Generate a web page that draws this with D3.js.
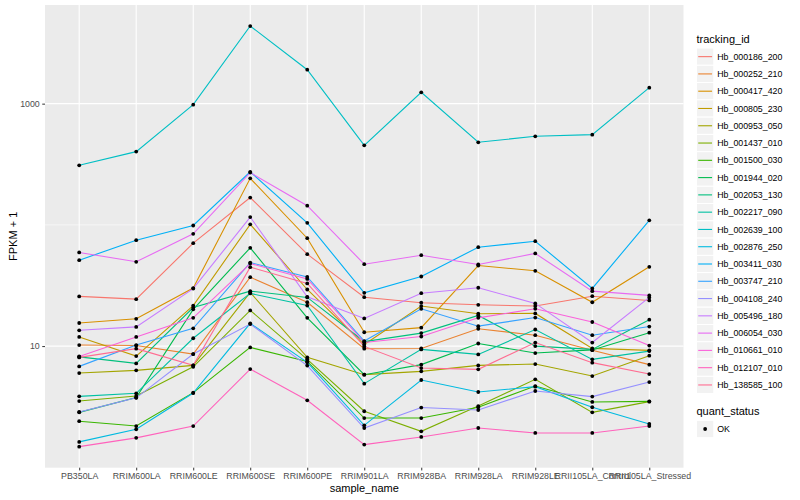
<!DOCTYPE html>
<html>
<head>
<meta charset="utf-8">
<script src="https://cdn.jsdelivr.net/npm/d3@7"></script>
<style>
  body { margin: 0; background: #fff; }
  text { font-family: "Liberation Sans", Arial, Helvetica, sans-serif; }
</style>
</head>
<body>
<div id="chart"></div>
<script>
// Sample names along the x axis
var samples = ["PB350LA", "RRIM600LA", "RRIM600LE", "RRIM600SE", "RRIM600PE", "RRIM901LA",
    "RRIM928BA", "RRIM928LA", "RRIM928LE", "RRII105LA_Control", "RRII105LA_Stressed"];

var trackingIds = ["Hb_000186_200", "Hb_000252_210", "Hb_000417_420", "Hb_000805_230", "Hb_000953_050",
    "Hb_001437_010", "Hb_001500_030", "Hb_001944_020", "Hb_002053_130", "Hb_002217_090",
    "Hb_002639_100", "Hb_002876_250", "Hb_003411_030", "Hb_003747_210", "Hb_004108_240",
    "Hb_005496_180", "Hb_006054_030", "Hb_010661_010", "Hb_012107_010", "Hb_138585_100"];

// ggplot hue palette for 20 levels
var colors = ["#F8766D", "#EA8331", "#D89000", "#C09B00", "#A3A500", "#7CAE00", "#39B600", "#00BB4E",
    "#00BF7D", "#00C1A3", "#00BFC4", "#00BAE0", "#00B0F6", "#35A2FF", "#9590FF", "#C77CFF",
    "#E76BF3", "#FA62DB", "#FF62BC", "#FF6C91"];

// FPKM + 1 per sample, one array per gene
var hb000186_200 = [25.7, 24.4, 70.6, 168, 57.3, 25.3, 22.8, 21.9, 21.4, 25.8, 23.8];
var hb000252_210 = [10.2, 10.1, 8.59, 37.0, 23.0, 9.52, 9.55, 13.9, 12.3, 9.25, 7.03];
var hb000417_420 = [15.5, 16.8, 30.1, 242, 77.6, 13.0, 14.2, 46.2, 41.8, 23.0, 45.1];
var hb000805_230 = [11.9, 8.27, 21.6, 101, 29.3, 10.3, 21.4, 18.5, 18.6, 9.57, 9.22];
var hb000953_050 = [5.99, 6.31, 6.93, 27.7, 8.07, 5.81, 6.19, 6.93, 7.11, 5.66, 8.33];
var hb001437_010 = [3.52, 3.88, 6.75, 19.7, 7.77, 2.90, 1.98, 3.20, 5.32, 2.84, 3.48];
var hb001500_030 = [2.40, 2.19, 4.13, 9.75, 7.48, 2.55, 2.55, 3.13, 4.68, 3.46, 3.50];
var hb001944_020 = [2.84, 3.76, 20.1, 64.7, 17.1, 5.81, 7.03, 10.5, 8.76, 9.30, 12.9];
var hb002053_130 = [8.15, 7.20, 20.8, 28.4, 25.2, 10.9, 12.8, 17.9, 10.0, 9.39, 16.5];
var hb002217_090 = [3.85, 4.08, 11.6, 27.2, 21.6, 4.90, 9.39, 8.54, 13.7, 7.77, 9.09];
var hb002639_100 = [310, 402, 981, 4368, 1906, 453, 1239, 480, 538, 555, 1355];
var hb002876_250 = [1.62, 2.06, 4.10, 15.4, 7.34, 2.22, 5.25, 4.18, 4.63, 3.13, 2.28];
var hb003411_030 = [51.1, 74.7, 98.8, 274, 104, 27.5, 37.5, 65.4, 73.3, 29.9, 109];
var hb003747_210 = [6.80, 10.2, 14.0, 48.9, 37.2, 11.0, 20.3, 14.6, 17.2, 12.3, 14.5];
var hb004108_240 = [2.86, 3.74, 8.59, 15.2, 6.90, 2.11, 3.11, 2.97, 4.26, 3.83, 5.05];
var hb005496_180 = [13.5, 14.4, 29.8, 116, 25.5, 16.9, 27.3, 30.3, 22.5, 10.7, 25.2];
var hb006054_030 = [59.2, 49.6, 84.4, 270, 144, 47.4, 56.2, 47.1, 58.1, 28.4, 26.2];
var hb010661_010 = [8.22, 11.9, 17.1, 48.0, 35.8, 10.7, 12.0, 17.1, 20.3, 15.8, 10.1];
var hb012107_010 = [1.48, 1.75, 2.19, 6.46, 3.57, 1.54, 1.78, 2.11, 1.92, 1.92, 2.19];
var hb138585_100 = [8.07, 9.52, 6.93, 44.8, 32.9, 9.94, 6.59, 6.43, 10.7, 7.30, 5.88];

var yTicks = [10, 1000];
var yMinor = [100];

var allValues = [hb000186_200, hb000252_210, hb000417_420, hb000805_230, hb000953_050,
    hb001437_010, hb001500_030, hb001944_020, hb002053_130, hb002217_090,
    hb002639_100, hb002876_250, hb003411_030, hb003747_210, hb004108_240,
    hb005496_180, hb006054_030, hb010661_010, hb012107_010, hb138585_100];

var series = trackingIds.map(function(id, i) {
    return {
        id: id,
        color: colors[i],
        points: allValues[i].map(function(v, j) { return {sample: samples[j], value: v}; })
    };
});

var svgWidth = 800;
var svgHeight = 500;
var panel = {left: 45, top: 5, right: 683.5, bottom: 467.7};
var pointRadius = 1.9;

var svg = d3.select("#chart")
    .append("svg")
    .attr("width", svgWidth)
    .attr("height", svgHeight);

svg.append("rect").attr("width", svgWidth).attr("height", svgHeight).attr("fill", "#fff");

// Scales: discrete x, log10 y with 5% expansion
var xScale = d3.scalePoint()
    .domain(samples)
    .range([panel.left, panel.right])
    .padding(0.6);

var logMin = d3.min(allValues, function(a) { return d3.min(a, function(v) { return Math.log10(v); }); });
var logMax = d3.max(allValues, function(a) { return d3.max(a, function(v) { return Math.log10(v); }); });
var pad = (logMax - logMin) * 0.05;

var yScale = d3.scaleLog()
    .domain([Math.pow(10, logMin - pad), Math.pow(10, logMax + pad)])
    .range([panel.bottom, panel.top]);

// Panel background and grid
svg.append("rect")
    .attr("x", panel.left)
    .attr("y", panel.top)
    .attr("width", panel.right - panel.left)
    .attr("height", panel.bottom - panel.top)
    .attr("fill", "#EBEBEB");

var grid = svg.append("g");
grid.selectAll(".minor")
    .data(yMinor)
    .enter()
    .append("line")
    .attr("x1", panel.left).attr("x2", panel.right)
    .attr("y1", d => yScale(d)).attr("y2", d => yScale(d))
    .attr("stroke", "#fff").attr("stroke-width", 0.55);

grid.selectAll(".majorY")
    .data(yTicks)
    .enter()
    .append("line")
    .attr("x1", panel.left).attr("x2", panel.right)
    .attr("y1", d => yScale(d)).attr("y2", d => yScale(d))
    .attr("stroke", "#fff").attr("stroke-width", 1.1);

grid.selectAll(".majorX")
    .data(samples)
    .enter()
    .append("line")
    .attr("x1", d => xScale(d)).attr("x2", d => xScale(d))
    .attr("y1", panel.top).attr("y2", panel.bottom)
    .attr("stroke", "#fff").attr("stroke-width", 1.1);

// Axes
var bottomAxis = d3.axisBottom(xScale).tickSize(2.75).tickPadding(2.5);
var leftAxis = d3.axisLeft(yScale).tickValues(yTicks).tickFormat(d3.format("d")).tickSize(2.75).tickPadding(2.5);

var xAxis = svg.append("g")
    .attr("transform", `translate(0, ${panel.bottom})`)
    .call(bottomAxis);
var yAxis = svg.append("g")
    .attr("transform", `translate(${panel.left}, 0)`)
    .call(leftAxis);

[xAxis, yAxis].forEach(function(ax) {
    ax.select(".domain").remove();
    ax.selectAll(".tick line").attr("stroke", "#333333").attr("stroke-width", 1);
    ax.selectAll(".tick text")
        .attr("fill", "#4D4D4D")
        .style("font-size", "8.8px")
        .style("font-family", "'Liberation Sans', Arial, sans-serif");
});

// Lines, then points
var line = d3.line()
    .x(d => xScale(d.sample))
    .y(d => yScale(d.value));

svg.append("g").selectAll("path")
    .data(series)
    .enter()
    .append("path")
    .attr("d", d => line(d.points))
    .attr("fill", "none")
    .attr("stroke", d => d.color)
    .attr("stroke-width", 1.1);

svg.append("g").selectAll("g")
    .data(series)
    .enter()
    .append("g")
    .selectAll("circle")
    .data(d => d.points)
    .enter()
    .append("circle")
    .attr("cx", d => xScale(d.sample))
    .attr("cy", d => yScale(d.value))
    .attr("r", pointRadius)
    .attr("fill", "#000");

// Axis titles
svg.append("text")
    .attr("x", (panel.left + panel.right) / 2)
    .attr("y", 492)
    .attr("text-anchor", "middle")
    .style("font-size", "11px")
    .text("sample_name");

svg.append("text")
    .attr("transform", `translate(17, ${(panel.top + panel.bottom) / 2}) rotate(-90)`)
    .attr("text-anchor", "middle")
    .style("font-size", "11px")
    .text("FPKM + 1");

// Legend: tracking_id
var keySize = 17.28;
var legendX = 696.5;
var legendTop = 48;

svg.append("text")
    .attr("x", legendX)
    .attr("y", 43)
    .style("font-size", "11px")
    .text("tracking_id");

var legend = svg.append("g");
var items = legend.selectAll("g")
    .data(series)
    .enter()
    .append("g")
    .attr("transform", (d, i) => `translate(${legendX}, ${legendTop + i * keySize})`);

items.append("rect")
    .attr("width", keySize)
    .attr("height", keySize)
    .attr("fill", "#F2F2F2")
    .attr("stroke", "#fff")
    .attr("stroke-width", 1);

items.append("line")
    .attr("x1", keySize * 0.1).attr("x2", keySize * 0.9)
    .attr("y1", keySize / 2).attr("y2", keySize / 2)
    .attr("stroke", d => d.color)
    .attr("stroke-width", 1.1);

items.append("text")
    .attr("x", keySize + 3.5)
    .attr("y", keySize / 2)
    .attr("dy", "0.35em")
    .style("font-size", "8.8px")
    .text(d => d.id);

// Legend: quant_status
svg.append("text")
    .attr("x", legendX)
    .attr("y", 415)
    .style("font-size", "11px")
    .text("quant_status");

var okKey = svg.append("g")
    .attr("transform", `translate(${legendX}, ${429 - keySize / 2})`);
okKey.append("rect")
    .attr("width", keySize).attr("height", keySize)
    .attr("fill", "#F2F2F2").attr("stroke", "#fff").attr("stroke-width", 1);
okKey.append("circle")
    .attr("cx", keySize / 2).attr("cy", keySize / 2).attr("r", pointRadius).attr("fill", "#000");
okKey.append("text")
    .attr("x", keySize + 3.5)
    .attr("y", keySize / 2)
    .attr("dy", "0.35em")
    .style("font-size", "8.8px")
    .text("OK");
</script>
</body>
</html>
